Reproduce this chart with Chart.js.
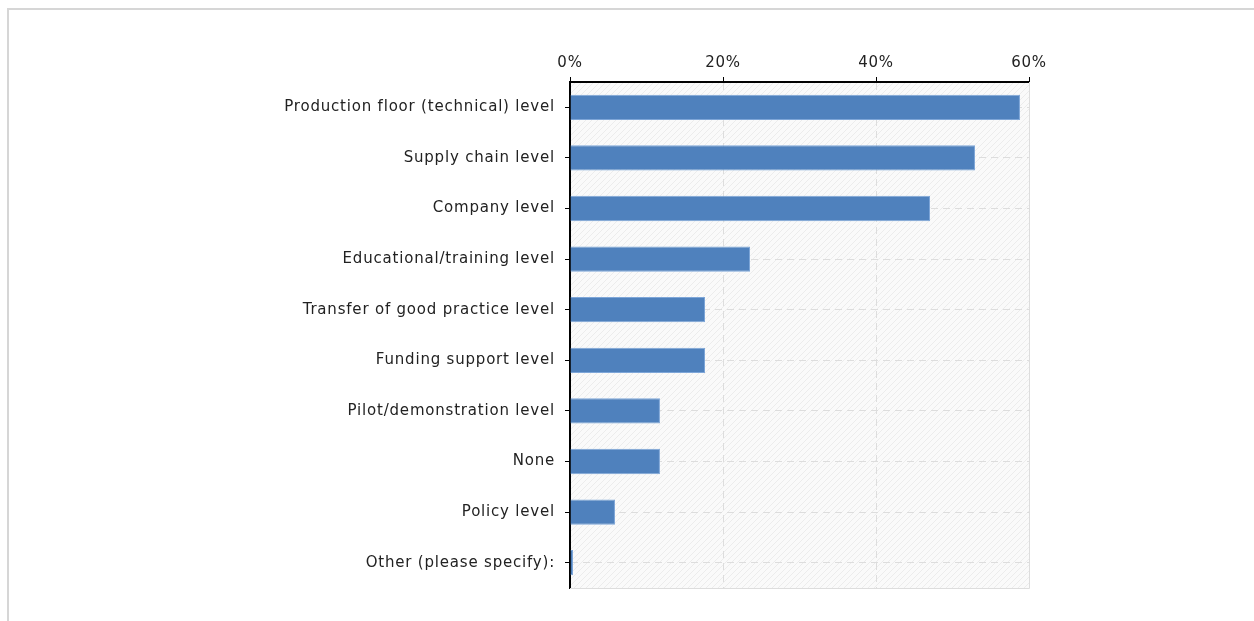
<!DOCTYPE html>
<html>
<head>
<meta charset="utf-8">
<script src="https://cdn.jsdelivr.net/npm/chart.js@4"></script>
<style>
  html, body { margin: 0; padding: 0; background: #fff; }
  #frame { position: absolute; left: 7px; top: 8px; right: 0; bottom: 0; border-top: 2px solid #d6d6d6; border-left: 2px solid #d6d6d6; }
  #wrap { position: absolute; left: 0; top: 0; width: 1254px; height: 621px; }
</style>
</head>
<body>
<div id="frame"></div>
<div id="wrap"><canvas id="levelsChart" width="1254" height="621"></canvas></div>
<script>
const categories = [
  "Production floor (technical) level",
  "Supply chain level",
  "Company level",
  "Educational/training level",
  "Transfer of good practice level",
  "Funding support level",
  "Pilot/demonstration level",
  "None",
  "Policy level",
  "Other (please specify):"
];
const shares = [58.82, 52.94, 47.06, 23.53, 17.65, 17.65, 11.76, 11.76, 5.88, 0];
const tickMax = 60;
const tickStep = 20;

// hatched panel behind the bars plus a light outline
const plotPanel = {
  id: "plotPanel",
  beforeDraw(chart) {
    const { ctx, chartArea: a } = chart;
    ctx.save();
    ctx.fillStyle = "#fafafa";
    ctx.fillRect(a.left, a.top, a.right - a.left, a.bottom - a.top);
    ctx.beginPath();
    ctx.rect(a.left, a.top, a.right - a.left, a.bottom - a.top);
    ctx.clip();
    ctx.strokeStyle = "#ececec";
    ctx.lineWidth = 1;
    const h = a.bottom - a.top;
    for (let x = a.left - h; x < a.right + h; x += 6) {
      ctx.beginPath();
      ctx.moveTo(x, a.bottom);
      ctx.lineTo(x + h, a.top);
      ctx.stroke();
    }
    ctx.restore();
    // slightly spaced lettering for the tick labels
    ctx.letterSpacing = "0.8px";
  },
  afterDraw(chart) {
    const { ctx, chartArea: a } = chart;
    ctx.save();
    ctx.strokeStyle = "#dddddd";
    ctx.lineWidth = 1;
    ctx.beginPath();
    ctx.moveTo(a.right + 0.5, a.top);
    ctx.lineTo(a.right + 0.5, a.bottom + 0.5);
    ctx.lineTo(a.left, a.bottom + 0.5);
    ctx.stroke();
    ctx.restore();
  }
};

Chart.defaults.font.family = "'DejaVu Sans', Verdana, sans-serif";
Chart.defaults.font.size = 15;
Chart.defaults.color = "#222";

new Chart(document.getElementById("levelsChart"), {
  type: "bar",
  data: {
    labels: categories,
    datasets: [{
      data: shares,
      backgroundColor: "#4f81bd",
      borderColor: "#7ea6d8",
      borderWidth: 1,
      minBarLength: 3,
      barPercentage: 0.5,
      categoryPercentage: 1
    }]
  },
  options: {
    indexAxis: "y",
    responsive: false,
    animation: false,
    layout: { padding: { left: 0, top: 0, right: 225, bottom: 33 } },
    plugins: { legend: { display: false }, tooltip: { enabled: false } },
    scales: {
      x: {
        position: "top",
        min: 0,
        max: tickMax,
        afterFit(scale) { scale.height = 82; },
        ticks: { stepSize: tickStep, padding: 5, callback: (v) => v + "%" },
        grid: { color: "#dddddd", tickColor: "#000", tickLength: 5, tickWidth: 1 },
        border: { color: "#000", width: 2, dash: [7, 5] }
      },
      y: {
        afterFit(scale) { scale.width = 570; },
        ticks: { padding: 10 },
        grid: { offset: false, color: "#dddddd", tickColor: "#000", tickLength: 5, tickWidth: 1 },
        border: { color: "#000", width: 2, dash: [7, 5] }
      }
    }
  },
  plugins: [plotPanel]
});
</script>
</body>
</html>
